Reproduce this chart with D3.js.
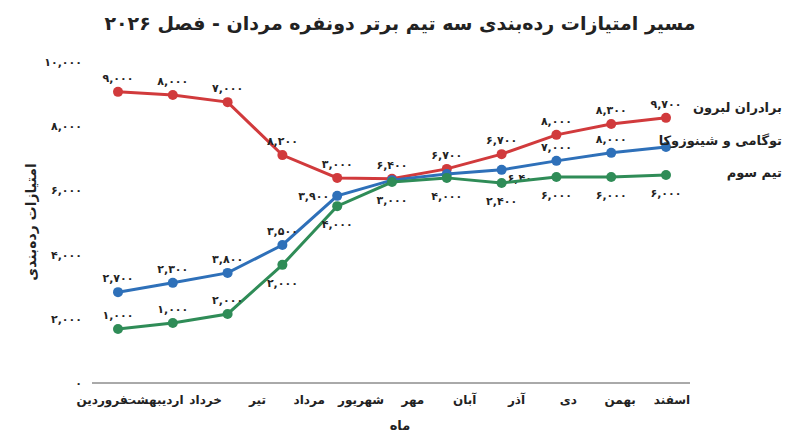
<!DOCTYPE html>
<html><head><meta charset="utf-8">
<script src="https://cdn.jsdelivr.net/npm/d3@7"></script>
<style>body{margin:0;background:#fff}text{font-family:"DejaVu Sans",sans-serif;font-weight:bold}</style>
</head><body><svg id="chart" width="800" height="447"></svg>
<script>
const months = ['فروردین','اردیبهشت','خرداد','تیر','مرداد','شهریور','مهر','آبان','آذر','دی','بهمن','اسفند'];
const yTicks = [0, 2000, 4000, 6000, 8000, 10000];

// plotted values (read from positions)
const redValues = [9070, 8970, 8750, 7100, 6390, 6360, 6670, 7130, 7730, 8070, 8260];
const blueValues = [2830, 3120, 3430, 4300, 5830, 6320, 6510, 6640, 6920, 7170, 7350];
const greenValues = [1680, 1870, 2150, 3680, 5510, 6260, 6390, 6230, 6420, 6420, 6480];

// printed labels (as shown) and where they sit
const redLabels = [9000, 8000, 7000, 8200, 3000, 6400, 6700, 6700, 8000, 8300, 9700];
const blueLabels = [2700, 2300, 3800, 3500, 3900, null, null, 6400, 7000, 8000, null];
const blueLabelPos = ['a','a','a','a','l','a','a','br','a','a','a'];
const greenLabels = [1000, 1000, 2000, 2000, 4000, 3000, 4000, 2400, 6000, 6000, 6000];
const greenLabelPos = ['a','a','a','b','b','b','b','b','b','b','b'];

const seriesNames = ['برادران لبرون', 'توگامی و شینوزوکا', 'تیم سوم'];
const colors = ['#d13a3c', '#2e70b9', '#2f8c57'];

const fa = n => d3.format(',')(n).replace(/\d/g, d => '۰۱۲۳۴۵۶۷۸۹'[d]);

const svg = d3.select('#chart');
const y = d3.scaleLinear().domain([0, 10000]).range([383, 62]);
const x = d3.scalePoint().domain(d3.range(redValues.length)).range([118, 666]);
const xLab = d3.scalePoint().domain(months).range([102, 672]);

svg.append('text').attr('x', 400).attr('y', 30).attr('text-anchor', 'middle')
    .attr('font-size', 19).attr('fill', '#222').text('مسیر امتیازات رده‌بندی سه تیم برتر دونفره مردان - فصل ۲۰۲۶');

// y axis labels
svg.selectAll('.yt').data(yTicks).enter().append('text')
    .attr('x', 82).attr('y', d => y(d) + 4).attr('text-anchor', 'end')
    .attr('font-size', 11).attr('fill', '#222').text(d => fa(d));
svg.append('text').attr('transform', 'translate(36,222) rotate(-90)').attr('text-anchor', 'middle')
    .attr('font-size', 14).attr('fill', '#222').text('امتیازات رده‌بندی');

// x axis
svg.append('line').attr('x1', 92).attr('x2', 690).attr('y1', 383).attr('y2', 383)
    .attr('stroke', '#555').attr('stroke-width', 1);
svg.selectAll('.xt').data(months).enter().append('text')
    .attr('x', d => xLab(d)).attr('y', 404).attr('text-anchor', 'middle')
    .attr('font-size', 12).attr('fill', '#222').text(d => d);
svg.append('text').attr('x', 400).attr('y', 430).attr('text-anchor', 'middle')
    .attr('font-size', 13).attr('fill', '#222').text('ماه');

const series = [
    {vals: redValues, labels: redLabels, pos: redLabels.map(() => 'a')},
    {vals: blueValues, labels: blueLabels, pos: blueLabelPos},
    {vals: greenValues, labels: greenLabels, pos: greenLabelPos}
];
const line = d3.line().x((d, i) => x(i)).y(d => y(d));

series.forEach((s, k) => {
    svg.append('path').datum(s.vals).attr('d', line).attr('fill', 'none')
        .attr('stroke', colors[k]).attr('stroke-width', 3);
    svg.selectAll('.pt' + k).data(s.vals).enter().append('circle')
        .attr('cx', (d, i) => x(i)).attr('cy', d => y(d)).attr('r', 5).attr('fill', colors[k]);
    s.vals.forEach((v, i) => {
        if (s.labels[i] == null) return;
        const p = s.pos[i];
        let dx = 0, dy = -10, anchor = 'middle';
        if (p === 'b') dy = 22;
        if (p === 'br') { dx = 6; dy = 12; anchor = 'start'; }
        if (p === 'l') { dx = -8; dy = 4; anchor = 'end'; }
        svg.append('text').attr('x', x(i) + dx).attr('y', y(v) + dy).attr('text-anchor', anchor)
            .attr('font-size', 11).attr('fill', '#222').text(fa(s.labels[i]));
    });
    svg.append('text').attr('x', 782).attr('y', y(s.vals[s.vals.length - 1]) - 6 + k * 4)
        .attr('text-anchor', 'end').attr('font-size', 13).attr('fill', '#222').text(seriesNames[k]);
});
</script></body></html>
